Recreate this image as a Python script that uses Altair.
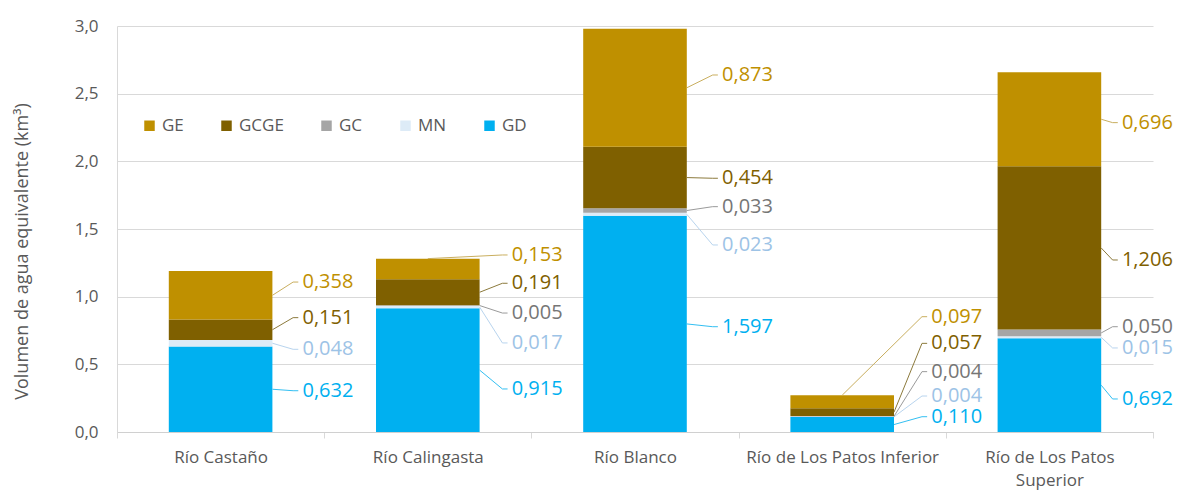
import altair as alt
import pandas as pd

# ---------------- data ----------------
categories = ["Río Castaño", "Río Calingasta", "Río Blanco",
              "Río de Los Patos Inferior", "Río de Los Patos Superior"]
legend_order = ["GE", "GCGE", "GC", "MN", "GD"]
stack_order = ["GD", "MN", "GC", "GCGE", "GE"]

GD = [0.632, 0.915, 1.597, 0.110, 0.692]
MN = [0.048, 0.017, 0.023, 0.004, 0.015]
GC = [0.000, 0.005, 0.033, 0.004, 0.050]
GCGE = [0.151, 0.191, 0.454, 0.057, 1.206]
GE = [0.358, 0.153, 0.873, 0.097, 0.696]
values = {"GD": GD, "MN": MN, "GC": GC, "GCGE": GCGE, "GE": GE}

# ---------------- styles ----------------
bar_colors = {"GE": "#BF9000", "GCGE": "#7F6000", "GC": "#A5A5A5",
              "MN": "#DDEBF7", "GD": "#00B0F0"}
text_colors = {"GE": "#BF9000", "GCGE": "#7F6000", "GC": "#767676",
               "MN": "#9DC3E6", "GD": "#00B0F0"}
line_colors = {"GE": "#C9AE5E", "GCGE": "#8C7A3C", "GC": "#9A9A9A",
               "MN": "#B8D4EE", "GD": "#33BFF2"}

# label placement (label centre in data units; None = no label)
label_y = {
    "GE":   [1.108, 1.308, 2.638, 0.852, 2.286],
    "GCGE": [0.845, 1.099, 1.875, 0.655, 1.271],
    "GC":   [None, 0.879, 1.665, 0.446, 0.778],
    "MN":   [0.611, 0.658, 1.382, 0.266, 0.621],
    "GD":   [0.305, 0.318, 0.778, 0.113, 0.244],
}
label_gap = [0.145, 0.155, 0.17, 0.18, 0.1]   # fraction of a category band
top_anchor = {("GE", 1), ("GE", 3)}           # leader starts at bar top
BAR_HALF = 0.25
ELBOW = 0.045
END = 0.02
FONT = "Open Sans"
GREY = "#595959"

# ---------------- tables ----------------
bar_rows, lab_rows, line_rows = [], [], []
for i, cat in enumerate(categories):
    base = 0.0
    total = sum(values[s][i] for s in stack_order)
    for s in stack_order:
        v = values[s][i]
        bar_rows.append({"cat": cat, "series": s, "y0": base, "y1": base + v})
        mid = base + v / 2
        ly = label_y[s][i]
        if ly is not None:
            tx = i + BAR_HALF + label_gap[i]
            lab_rows.append({"tx": tx, "ty": ly,
                             "txt": f"{v:.3f}".replace(".", ","),
                             "tcol": text_colors[s]})
            lid = f"{s}-{i}"
            if (s, i) in top_anchor:
                sx, sy = i, total
            else:
                sx, sy = i + BAR_HALF, mid
            for k, (px, py) in enumerate([(sx, sy), (tx - ELBOW, ly), (tx - END, ly)]):
                line_rows.append({"lid": lid, "pt": k, "lx": px, "ly": py,
                                  "lcol": line_colors[s]})
        base += v

bars_df = pd.DataFrame(bar_rows)
lab_df = pd.DataFrame(lab_rows)
line_df = pd.DataFrame(line_rows)

# ---------------- chart ----------------
y_title = "Volumen  de agua equivalente (km³)"
y_scale = alt.Scale(domain=[0, 3], nice=False)
y_axis = alt.Axis(title=y_title,
                  values=[0, 0.5, 1, 1.5, 2, 2.5, 3],
                  labelExpr="replace(format(datum.value, '.1f'), '.', ',')",
                  ticks=False, labelPadding=19, labelFont=FONT,
                  labelFontSize=17, labelColor=GREY,
                  gridColor="#D9D9D9", domainColor="#D9D9D9",
                  titleFont=FONT, titleFontSize=18, titleFontWeight="normal",
                  titleColor=GREY, titleAngle=-90, titleX=-95, titleY=225,
                  titleAlign="center", titleBaseline="middle")

bars = alt.Chart(bars_df).mark_bar(width=alt.RelativeBandSize(0.5)).encode(
    x=alt.X("cat:N", sort=categories,
            scale=alt.Scale(paddingInner=0, paddingOuter=0),
            axis=alt.Axis(title=None, labelAngle=0, tickBand="extent", ticks=True,
                          tickSize=6, tickColor="#D9D9D9", domainColor="#D0D0D0",
                          labelFont=FONT, labelFontSize=17, labelColor=GREY,
                          labelPadding=11, labelLimit=0, labelOverlap=False,
                          labelLineHeight=23, grid=False,
                          labelExpr="datum.label == 'Río de Los Patos Superior' ? "
                                    "['Río de Los Patos', 'Superior'] : datum.label")),
    y=alt.Y("y0:Q", scale=y_scale, axis=y_axis),
    y2="y1:Q",
    color=alt.Color("series:N",
                    scale=alt.Scale(domain=legend_order,
                                    range=[bar_colors[s] for s in legend_order]),
                    legend=alt.Legend(title=None, orient="none", legendX=24, legendY=91,
                                      direction="horizontal", columns=5,
                                      columnPadding=34, symbolType="square",
                                      symbolSize=110, symbolStrokeWidth=0,
                                      labelFont=FONT, labelFontSize=17,
                                      labelColor=GREY, labelOffset=4, padding=0)),
)

xq = alt.Scale(domain=[-0.5, 4.5], nice=False, zero=False)

lines = alt.Chart(line_df).mark_line(strokeWidth=1).encode(
    x=alt.X("lx:Q", scale=xq, axis=None),
    y=alt.Y("ly:Q", scale=y_scale, axis=y_axis),
    detail="lid:N",
    order="pt:Q",
    stroke=alt.Stroke("lcol:N", scale=None),
)

texts = alt.Chart(lab_df).mark_text(align="left", baseline="middle",
                                    fontSize=20, font=FONT).encode(
    x=alt.X("tx:Q", scale=xq, axis=None),
    y=alt.Y("ty:Q", scale=y_scale, axis=y_axis),
    text="txt:N",
    fill=alt.Fill("tcol:N", scale=None),
)

chart = alt.layer(bars, lines, texts).resolve_scale(x="independent").properties(
    width=1036, height=406,
    padding={"left": 109, "top": 18, "right": 20, "bottom": 58},
    autosize=alt.AutoSizeParams(type="none"),
).configure_view(stroke=None)

chart.save("out.html", embed_options={"renderer": "svg", "actions": False})
